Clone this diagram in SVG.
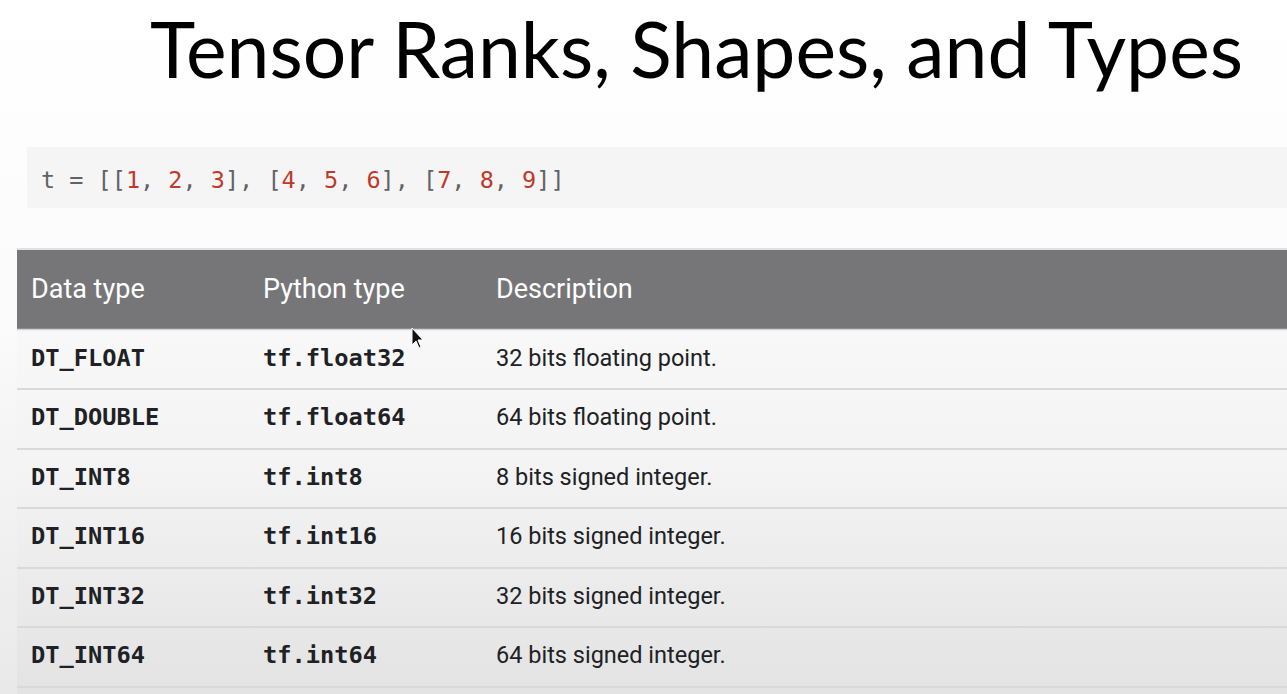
<svg xmlns="http://www.w3.org/2000/svg" width="1287" height="694" viewBox="0 0 1287 694">
<defs>
<linearGradient id="bg" x1="0" y1="0" x2="0" y2="1">
<stop offset="0" stop-color="#ffffff"/>
<stop offset="0.45" stop-color="#fbfbfb"/>
<stop offset="1" stop-color="#e9e9e9"/>
</linearGradient>
<linearGradient id="rows" x1="0" y1="0" x2="0" y2="1">
<stop offset="0" stop-color="#f8f8f8"/>
<stop offset="0.4" stop-color="#f3f3f3"/>
<stop offset="1" stop-color="#e3e3e3"/>
</linearGradient>
<style>
.title{font-family:"Lato","Open Sans","DejaVu Sans",sans-serif;font-size:78px;fill:#000}
.code{font-family:"DejaVu Sans Mono","Liberation Mono",monospace;font-size:23.5px;fill:#5f6368}
.num{fill:#c0392b}
.hd{font-family:Roboto,"Liberation Sans",sans-serif;font-weight:400;font-size:27px;fill:#ffffff}
.mono{font-family:"DejaVu Sans Mono","Liberation Mono",monospace;font-weight:bold;font-size:23.7px;fill:#202124}
.desc{font-family:Roboto,"Liberation Sans",sans-serif;font-size:23.5px;fill:#202124}
.sep{stroke:#d9d9d9;stroke-width:2}
</style>
</defs>
<rect x="0" y="0" width="1287" height="694" fill="url(#bg)"/>
<text class="title" x="150" y="78" textLength="1093" lengthAdjust="spacingAndGlyphs">Tensor Ranks, Shapes, and Types</text>
<g id="code">
<rect x="27" y="147" width="1260" height="61" fill="#f5f5f6"/>
<text class="code" x="41" y="188">t = [[<tspan class="num">1</tspan>, <tspan class="num">2</tspan>, <tspan class="num">3</tspan>], [<tspan class="num">4</tspan>, <tspan class="num">5</tspan>, <tspan class="num">6</tspan>], [<tspan class="num">7</tspan>, <tspan class="num">8</tspan>, <tspan class="num">9</tspan>]]</text>
</g>
<g id="table">
<rect x="17" y="329" width="1270" height="365" fill="url(#rows)"/>
<rect x="17" y="249" width="1270" height="80" fill="#767678"/>
<line x1="17" y1="249" x2="1287" y2="249" stroke="#e2e2e2" stroke-width="2"/>
<line x1="17" y1="329.5" x2="1287" y2="329.5" stroke="#d4d4d4" stroke-width="1.5"/>
<text class="hd" x="31" y="298">Data type</text>
<text class="hd" x="263" y="298">Python type</text>
<text class="hd" x="496" y="298">Description</text>
<line class="sep" x1="17" y1="389" x2="1287" y2="389"/>
<line class="sep" x1="17" y1="449" x2="1287" y2="449"/>
<line class="sep" x1="17" y1="508" x2="1287" y2="508"/>
<line class="sep" x1="17" y1="568" x2="1287" y2="568"/>
<line class="sep" x1="17" y1="627" x2="1287" y2="627"/>
<line class="sep" x1="17" y1="687" x2="1287" y2="687"/>
<g id="row1"><text class="mono" x="31" y="366">DT_FLOAT</text><text class="mono" x="263" y="366">tf.float32</text><text class="desc" x="496" y="366">32 bits floating point.</text></g>
<g id="row2"><text class="mono" x="31" y="425">DT_DOUBLE</text><text class="mono" x="263" y="425">tf.float64</text><text class="desc" x="496" y="425">64 bits floating point.</text></g>
<g id="row3"><text class="mono" x="31" y="485">DT_INT8</text><text class="mono" x="263" y="485">tf.int8</text><text class="desc" x="496" y="485">8 bits signed integer.</text></g>
<g id="row4"><text class="mono" x="31" y="544">DT_INT16</text><text class="mono" x="263" y="544">tf.int16</text><text class="desc" x="496" y="544">16 bits signed integer.</text></g>
<g id="row5"><text class="mono" x="31" y="604">DT_INT32</text><text class="mono" x="263" y="604">tf.int32</text><text class="desc" x="496" y="604">32 bits signed integer.</text></g>
<g id="row6"><text class="mono" x="31" y="663">DT_INT64</text><text class="mono" x="263" y="663">tf.int64</text><text class="desc" x="496" y="663">64 bits signed integer.</text></g>
</g>
<path id="cursor" d="M412 328 L412 345 L416 341 L419 348 L421 347 L418 340 L423 340 Z" fill="#111" stroke="#fff" stroke-width="1"/>
</svg>
